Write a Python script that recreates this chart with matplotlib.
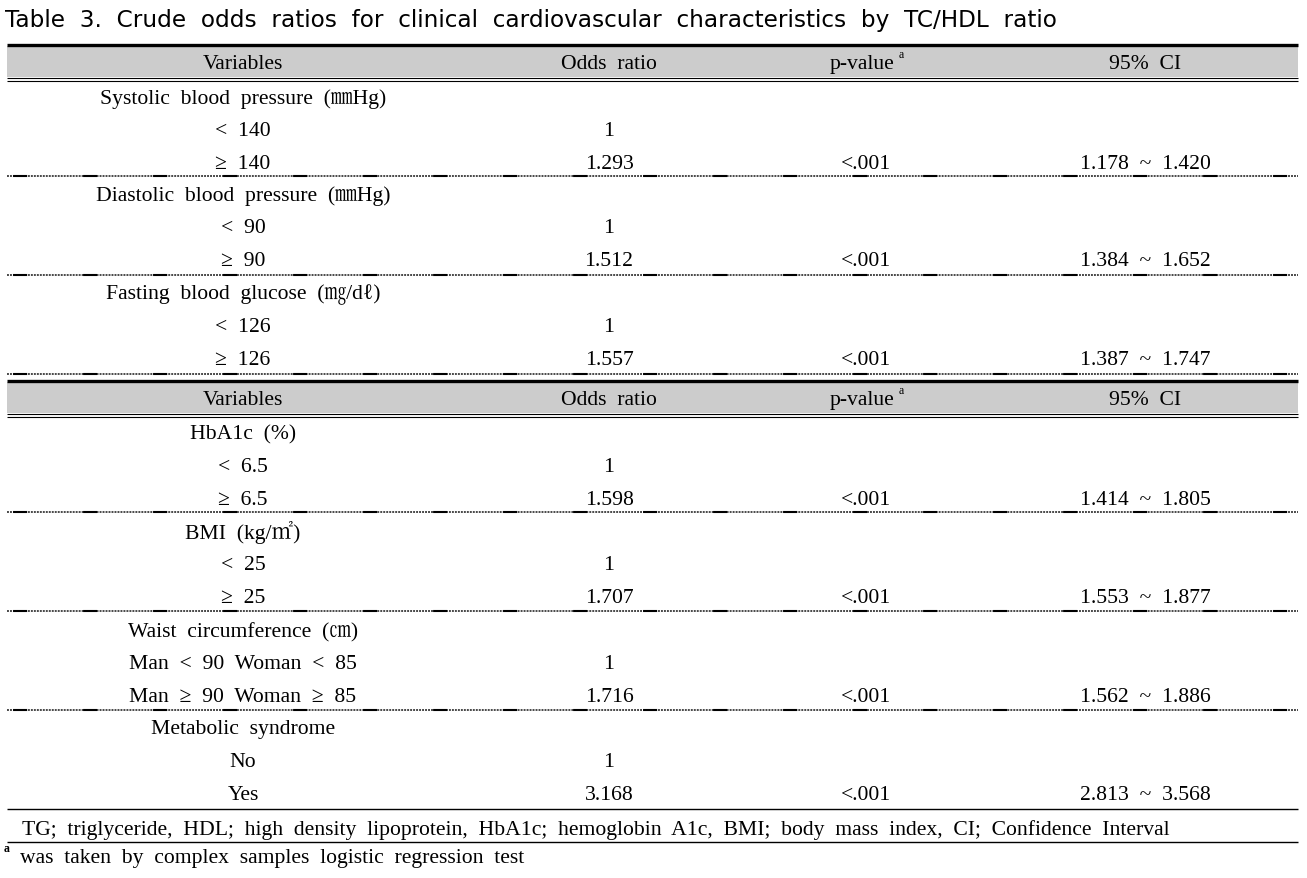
import matplotlib
matplotlib.use("Agg")
import matplotlib.pyplot as plt
from matplotlib.patches import Rectangle

# ---------------- data ----------------
title = "Table  3.  Crude  odds  ratios  for  clinical  cardiovascular  characteristics  by  TC/HDL  ratio"
headers = ["Variables", "Odds  ratio", "p-value", "95%  CI"]
variables = [
    "Systolic  blood  pressure  (㎜Hg)",
    "Diastolic  blood  pressure  (㎜Hg)",
    "Fasting  blood  glucose  (㎎/dℓ)",
    "HbA1c  (%)",
    "BMI  (kg/㎡)",
    "Waist  circumference  (㎝)",
    "Metabolic  syndrome",
]
levels = [
    ["<  140", "≥  140"],
    ["<  90", "≥  90"],
    ["<  126", "≥  126"],
    ["<  6.5", "≥  6.5"],
    ["<  25", "≥  25"],
    ["Man  <  90  Woman  <  85", "Man  ≥  90  Woman  ≥  85"],
    ["No", "Yes"],
]
reference_or = ["1"] * 7
odds_ratios = [1.293, 1.512, 1.557, 1.598, 1.707, 1.716, 3.168]
p_values = ["<.001"] * 7
ci_low = [1.178, 1.384, 1.387, 1.414, 1.553, 1.562, 2.813]
ci_high = [1.420, 1.652, 1.747, 1.805, 1.877, 1.886, 3.568]
footnote1 = "TG;  triglyceride,  HDL;  high  density  lipoprotein,  HbA1c;  hemoglobin  A1c,  BMI;  body  mass  index,  CI;  Confidence  Interval"
footnote2 = "was  taken  by  complex  samples  logistic  regression  test"

# ---------------- layout ----------------
W, H = 1307, 879
fig = plt.figure(figsize=(W / 100, H / 100), dpi=100)
ax = fig.add_axes([0, 0, 1, 1])
ax.set_xlim(0, W)
ax.set_ylim(H, 0)
ax.axis("off")

serif = ["Liberation Serif", "Noto Serif CJK KR", "Noto Sans CJK KR", "DejaVu Serif"]
FS = 15.6
col_x = [243, 609, 866, 1145]
XL, XR = 7, 1298
DY = 2  # text vertical offset

def hline(y, lw=0.8, style="-", color="black", snap=None):
    ax.plot([XL, XR], [y, y], color=color, lw=lw, linestyle=style,
            solid_capstyle="butt", dash_capstyle="butt", snap=snap)

def sep_line(y):
    # fine dotted line plus periodic solid segments
    hline(y, lw=1.0, style=(0, (1.4, 0.75)), color="black", snap=False)
    hline(y, lw=1.5, style=(46.0 / 1.5, (10.1 / 1.5, 40.3 / 1.5)), color="black", snap=False)

def header(ytop):
    hline(ytop, lw=2.4)
    ax.add_patch(Rectangle((XL, ytop + 1.5), XR - XL, 31, facecolor="#cccccc", edgecolor="none"))
    hline(ytop + 33.5, lw=0.8)
    hline(ytop + 36.5, lw=0.8)
    yc = ytop + 17 + DY
    for i, h in enumerate(headers):
        if i == 2:
            ax.text(col_x[i] - 4, yc, h, ha="center", va="center", fontsize=FS, family=serif)
            ax.text(col_x[i] + 35, yc - 9, "a", ha="center", va="center", fontsize=8.5, family=serif)
        else:
            ax.text(col_x[i], yc, h, ha="center", va="center", fontsize=FS, family=serif)

ax.text(5, 20, title, ha="left", va="center", fontsize=16.7, family=["DejaVu Sans"])

header(45.5)
header(381.5)

group_y = [97, 194.5, 293, 433, 531, 630.5, 728]
sep_after = [177, 276, 375, 513, 612, 711, 810]

for g in range(7):
    y0 = group_y[g] + DY
    ax.text(col_x[0], y0, variables[g], ha="center", va="center", fontsize=FS, family=serif)
    ax.text(col_x[0], y0 + 32.5, levels[g][0], ha="center", va="center", fontsize=FS, family=serif)
    ax.text(col_x[0], y0 + 65.5, levels[g][1], ha="center", va="center", fontsize=FS, family=serif)
    ax.text(col_x[1], y0 + 32.5, reference_or[g], ha="center", va="center", fontsize=FS, family=serif)
    ax.text(col_x[1], y0 + 65.5, f"{odds_ratios[g]:.3f}", ha="center", va="center", fontsize=FS, family=serif)
    ax.text(col_x[2], y0 + 65.5, p_values[g], ha="center", va="center", fontsize=FS, family=serif)
    ax.text(col_x[3], y0 + 65.5, f"{ci_low[g]:.3f}  ~  {ci_high[g]:.3f}", ha="center", va="center", fontsize=FS, family=serif)
    ys = sep_after[g]
    if g == 6:
        hline(ys, lw=1.0)
    else:
        sep_line(ys)

ax.text(22, 828 + DY, footnote1, ha="left", va="center", fontsize=FS, family=serif)
hline(843, lw=1.0)
ax.text(4, 849, "a", ha="left", va="center", fontsize=8.5, fontweight="bold", family=serif)
ax.text(20, 857 + DY, footnote2, ha="left", va="center", fontsize=FS, family=serif)

fig.savefig("out.png", dpi=100)
